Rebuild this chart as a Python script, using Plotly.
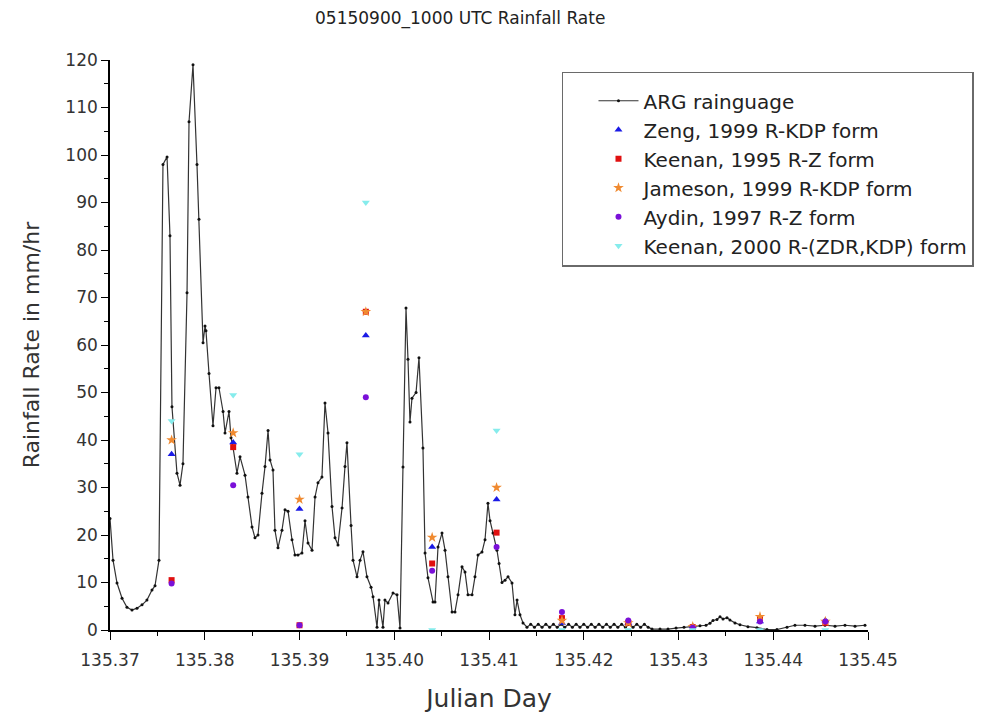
import plotly.graph_objects as go

# ARG rain gauge record (Julian day, mm/hr)
arg_day = [
    135.37000, 135.37032, 135.37074, 135.37127, 135.37179, 135.37232, 135.37285, 135.37338, 135.37390, 135.37443, 135.37475, 135.37517,
    135.37559, 135.37602, 135.37633, 135.37654, 135.37707, 135.37739, 135.37770, 135.37813, 135.37834, 135.37876, 135.37918, 135.37939,
    135.37982, 135.38003, 135.38013, 135.38045, 135.38087, 135.38119, 135.38150, 135.38193, 135.38214, 135.38256, 135.38277, 135.38298,
    135.38340, 135.38372, 135.38425, 135.38456, 135.38499, 135.38530, 135.38562, 135.38604, 135.38636, 135.38668, 135.38689, 135.38720,
    135.38741, 135.38773, 135.38815, 135.38847, 135.38879, 135.38921, 135.38952, 135.38984, 135.39026, 135.39058, 135.39090, 135.39132,
    135.39164, 135.39195, 135.39237, 135.39269, 135.39301, 135.39343, 135.39375, 135.39406, 135.39449, 135.39480, 135.39501, 135.39544,
    135.39565, 135.39607, 135.39639, 135.39670, 135.39712, 135.39755, 135.39776, 135.39818, 135.39839, 135.39881, 135.39902, 135.39934,
    135.39987, 135.40029, 135.40061, 135.40092, 135.40124, 135.40145, 135.40166, 135.40187, 135.40230, 135.40261, 135.40303, 135.40325,
    135.40356, 135.40409, 135.40430, 135.40462, 135.40504, 135.40536, 135.40567, 135.40610, 135.40641, 135.40673, 135.40715, 135.40747,
    135.40778, 135.40821, 135.40852, 135.40884, 135.40926, 135.40958, 135.40989, 135.41011, 135.41042, 135.41084, 135.41106, 135.41137,
    135.41169, 135.41201, 135.41243, 135.41274, 135.41296, 135.41327, 135.41359, 135.41401,
    135.4144, 135.4148, 135.4152, 135.4156, 135.4160, 135.4164, 135.4168, 135.4172,
    135.4176, 135.4180, 135.4184, 135.4188, 135.4192, 135.4196, 135.4200, 135.4204,
    135.4208, 135.4212, 135.4216, 135.4220, 135.4224, 135.4228, 135.4232, 135.4236,
    135.4240, 135.4244, 135.4248, 135.4252, 135.4256, 135.4260, 135.4264, 135.4268,
    135.42720, 135.42805, 135.42889, 135.42974, 135.43058, 135.43142, 135.43227, 135.43290, 135.43332, 135.43364,
    135.43406, 135.43438, 135.43470, 135.43512, 135.43543, 135.43596, 135.43649, 135.43733, 135.43828, 135.43934,
    135.44039, 135.44145, 135.44229, 135.44335, 135.44441, 135.44546, 135.44652, 135.44757, 135.44863, 135.44968,
]
arg_rate = [
    23.5, 14.7, 9.9, 6.7, 4.8, 4.2, 4.6, 5.3, 6.3, 8.4, 9.3, 14.7,
    98, 99.6, 83, 47, 33, 30.5, 35, 71, 107, 119, 98, 86.5,
    60.5, 64, 63, 54, 43, 51, 51, 46, 41.5, 46, 40.5, 38.5,
    33, 36.5, 32.6, 28, 21.7, 19.4, 20, 28.8, 34.4, 42, 35.8, 33.7,
    21, 17.3, 21, 25.3, 25, 19, 15.8, 15.8, 16.2, 23, 18.3, 16.8,
    28, 31, 32.2, 47.8, 41.5, 26, 19.4, 17.9, 25.7, 34.4, 39.4, 22,
    14.7, 11.2, 14.7, 16.5, 11.2, 9, 7, 0.6, 6.3, 0.6, 6.3, 5.7,
    7.8, 7.4, 0.4, 34.3, 67.8, 57, 43.8, 48.8, 50, 57.3, 38.3, 16.2,
    11, 5.9, 5.9, 17.5, 20.4, 16.8, 11.2, 3.8, 3.8, 7.4, 13.3, 12.2,
    7.4, 7.4, 11.2, 15.8, 16.4, 19, 26.7, 23, 20.4, 16.8, 14, 10,
    10.5, 11.2, 9.9, 3.2, 6.3, 3.2, 1.5, 0.6,
    1.2, 0.6, 1.2, 0.6, 1.2, 0.6, 1.2, 0.6,
    1.2, 0.6, 1.2, 0.6, 1.2, 0.6, 1.2, 0.6,
    1.2, 0.6, 1.2, 0.6, 1.2, 0.6, 1.2, 0.6,
    1.2, 0.6, 1.2, 0.6, 1.2, 0.6, 1.2, 0.6,
    0.2, 0.2, 0.2, 0.4, 0.6, 0.8, 0.9, 1.0, 1.4, 2.0,
    2.2, 2.8, 2.3, 2.6, 2.1, 1.5, 1.1, 0.7, 0.5, 0.1,
    0.1, 0.6, 1.0, 1.0, 0.8, 1.0, 0.8, 1.0, 0.8, 1.0,
]

# Radar estimate times and rates (mm/hr)
est_day = [135.3765, 135.3830, 135.3900, 135.3970, 135.4040, 135.4108,
           135.4177, 135.4247, 135.4315, 135.4386, 135.4455]
zeng_1999 = [37, 39.5, 25.5, 62, 17.5, 27.5, 1.5, 1.5, 0.8, 1.8, 2.0]
keenan_1995 = [10.5, 38.5, 1, 67, 14, 20.5, 2.5, 1.5, 0.6, 2.5, 1.5]
jameson_1999 = [40, 41.5, 27.5, 67, 19.5, 30, 2, 1.5, 0.7, 2.8, 1.8]
aydin_1997 = [9.8, 30.5, 1, 49, 12.5, 17.5, 3.8, 2, 0.5, 1.8, 1.8]
keenan_2000 = [44, 49.5, 37, 90, 0, 42, 0, 0, 0, 0, 0]

x_ticks = [135.37, 135.38, 135.39, 135.40, 135.41, 135.42, 135.43, 135.44, 135.45]
y_ticks = [0, 10, 20, 30, 40, 50, 60, 70, 80, 90, 100, 110, 120]

FONT = "DejaVu Sans"

fig = go.Figure()

fig.add_trace(go.Scatter(
    x=arg_day, y=arg_rate, mode="lines+markers", name="ARG rainguage",
    line=dict(color="#333333", width=1.2),
    marker=dict(color="#111111", size=3, symbol="circle"),
    legendgroup="g0",
))

estimates = [
    ("Zeng, 1999 R-KDP form", zeng_1999, "#1a1ae6", "triangle-up", 7),
    ("Keenan, 1995 R-Z form", keenan_1995, "#e01010", "square", 6),
    ("Jameson, 1999 R-KDP form", jameson_1999, "#f08a30", "star", 8),
    ("Aydin, 1997 R-Z form", aydin_1997, "#7a10d8", "circle", 6),
    ("Keenan, 2000 R-(ZDR,KDP) form", keenan_2000, "#86ecec", "triangle-down", 7),
]
for i, (label, vals, color, symbol, size) in enumerate(estimates):
    fig.add_trace(go.Scatter(
        x=est_day, y=vals, mode="markers", name=label,
        marker=dict(color=color, symbol=symbol, size=size, line=dict(width=0)),
        legendgroup=f"g{i + 1}",
    ))

axis_font = dict(family=FONT, size=17, color="#333333")

fig.update_xaxes(
    range=[135.37, 135.45], tickvals=x_ticks, tickformat=".2f",
    showline=True, linecolor="black", linewidth=1.6, mirror=False,
    ticks="outside", ticklen=8, tickwidth=1.4, tickcolor="black",
    minor=dict(ticks="outside", ticklen=4, tickwidth=1.2, tickcolor="black", dtick=0.005),
    showgrid=False, zeroline=False, tickfont=axis_font, ticklabelstandoff=6,
    title=dict(text="Julian Day", font=dict(family=FONT, size=25, color="#333333"), standoff=20),
)
fig.update_yaxes(
    range=[0, 120], tickvals=y_ticks,
    showline=True, linecolor="black", linewidth=1.6, mirror=False,
    ticks="outside", ticklen=7, tickwidth=1.4, tickcolor="black",
    minor=dict(ticks="outside", ticklen=4, tickwidth=1.2, tickcolor="black", dtick=5),
    showgrid=False, zeroline=False, tickfont=axis_font, ticklabelstandoff=0,
    title=dict(text="Rainfall Rate in mm/hr", font=dict(family=FONT, size=22, color="#333333"), standoff=20),
)

fig.update_layout(
    width=993, height=722,
    margin=dict(l=110, r=125, t=60, b=92),
    paper_bgcolor="white", plot_bgcolor="white",
    font=dict(family=FONT, color="#222222"),
    title=dict(
        text="05150900_1000 UTC Rainfall Rate",
        font=dict(family=FONT, size=17, color="#222222"),
        x=0.462, xref="paper", xanchor="center",
        y=0.975, yref="container", yanchor="middle",
    ),
    showlegend=True,
    legend=dict(
        x=0.5963, y=0.979, xanchor="left", yanchor="top",
        bgcolor="white", bordercolor="#6a6a6a", borderwidth=1.5,
        font=dict(family=FONT, size=20, color="#222222"),
        title=dict(text=" ", font=dict(family=FONT, size=6)),
        traceorder="grouped", tracegroupgap=0,
        indentation=30, itemwidth=40,
    ),
)

fig.write_html("out.html")
